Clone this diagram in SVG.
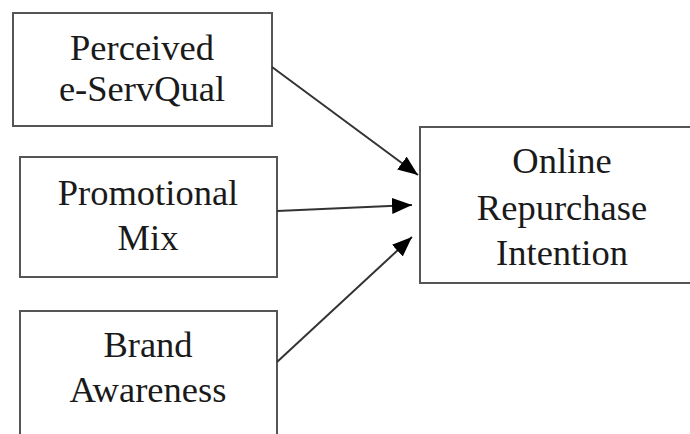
<svg xmlns="http://www.w3.org/2000/svg" width="690" height="434" viewBox="0 0 690 434">
<style>
.box{fill:#fff;stroke:#555;stroke-width:2}
.lbl{font-family:"Liberation Serif","Times New Roman",serif;font-size:36.5px;fill:#1a1a1a;text-anchor:middle}
.conn{stroke:#333;stroke-width:2;fill:none;marker-end:url(#ah)}
</style>
<defs>
<marker id="ah" markerUnits="userSpaceOnUse" markerWidth="22" markerHeight="18" refX="20" refY="8" orient="auto">
<path d="M0,0 L20,8 L0,16 z" fill="#000"/>
</marker>
</defs>
<rect width="690" height="434" fill="#fff"/>
<g id="n1">
<rect class="box" x="13" y="13" width="259" height="113"/>
<text class="lbl" x="142" y="60">Perceived</text>
<text class="lbl" x="142" y="101">e-ServQual</text>
</g>
<g id="n2">
<rect class="box" x="20" y="157" width="257" height="120"/>
<text class="lbl" x="148" y="205">Promotional</text>
<text class="lbl" x="148" y="250">Mix</text>
</g>
<g id="n3">
<rect class="box" x="20" y="311" width="257" height="140"/>
<text class="lbl" x="148" y="357">Brand</text>
<text class="lbl" x="148" y="402">Awareness</text>
</g>
<g id="n4">
<rect class="box" x="420" y="127" width="285" height="156"/>
<text class="lbl" x="562" y="173">Online</text>
<text class="lbl" x="562" y="220">Repurchase</text>
<text class="lbl" x="562" y="265">Intention</text>
</g>
<g id="connectors">
<line class="conn" x1="272" y1="67" x2="418" y2="175"/>
<line class="conn" x1="277" y1="211" x2="412" y2="205"/>
<line class="conn" x1="277" y1="362" x2="412" y2="237"/>
</g>
</svg>
